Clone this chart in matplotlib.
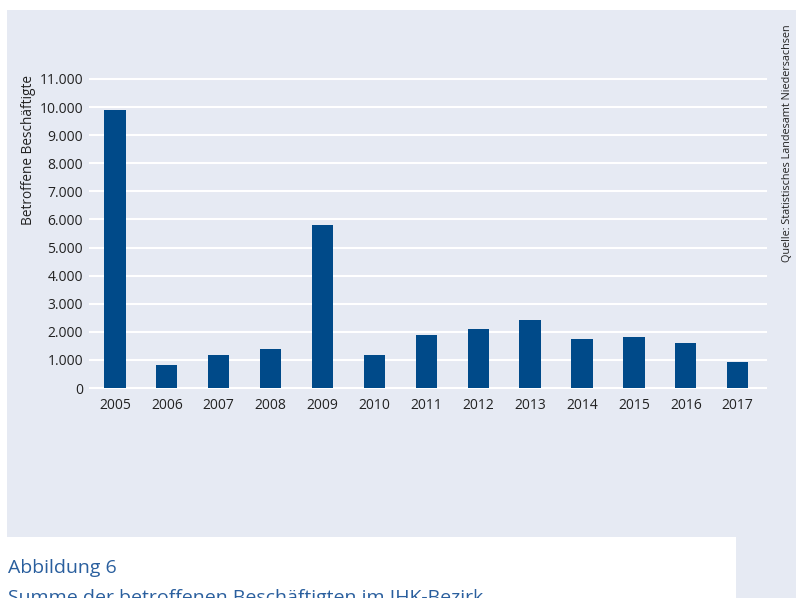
import matplotlib as mpl
mpl.use("Agg")
import matplotlib.pyplot as plt
from matplotlib.patches import Rectangle
from matplotlib.ticker import FuncFormatter
import numpy as np

plt.rcParams['font.family'] = ['Open Sans', 'DejaVu Sans']

years = ["2005", "2006", "2007", "2008", "2009", "2010", "2011",
         "2012", "2013", "2014", "2015", "2016", "2017"]
employees = [9900, 820, 1165, 1390, 5790, 1165, 1875,
             2100, 2410, 1755, 1825, 1590, 915]

panel = "#e6eaf3"
bar_color = "#004a89"
title_color = "#2a5f9e"

W, H = 796, 598
fig = plt.figure(figsize=(W / 100, H / 100), dpi=100)
fig.patch.set_facecolor("white")

# light panel behind the chart, with the white caption box cut out at bottom left
fig.patches.append(Rectangle((7 / W, 1 - 537 / H), 1 - 7 / W, (537 - 10) / H,
                             transform=fig.transFigure, facecolor=panel,
                             edgecolor="none", zorder=-5))
fig.patches.append(Rectangle((736 / W, 0), 1 - 736 / W, 1 - 537 / H + 0.001,
                             transform=fig.transFigure, facecolor=panel,
                             edgecolor="none", zorder=-5))

ax = fig.add_axes([90 / W, 1 - 388 / H, (766 - 90) / W, (388 - 79) / H])
ax.set_zorder(2)
ax.set_facecolor("none")

ind = np.arange(len(years))
ax.bar(ind, employees, width=0.41, color=bar_color, zorder=3)

ax.set_xlim(-0.48, len(years) - 1 + 0.545)
ax.set_ylim(0, 11000)
ax.set_yticks(np.arange(0, 11001, 1000))
ax.yaxis.set_major_formatter(FuncFormatter(lambda v, p: f"{int(v):,}".replace(",", ".")))
ax.set_xticks(ind, years)

ax.grid(axis="y", color="white", linewidth=1.5, zorder=1)
ax.set_axisbelow(True)
for s in ax.spines.values():
    s.set_visible(False)
ax.tick_params(axis="both", length=0, labelsize=10, colors="#222222")
ax.tick_params(axis="y", pad=5)
ax.tick_params(axis="x", pad=7)
for gl in ax.yaxis.get_gridlines():
    gl.set_clip_on(False)

fig.text(28 / W, 1 - 150 / H, "Betroffene Beschäftigte", rotation=90,
         ha="center", va="center", fontsize=9.8, color="#222222")
fig.text(787 / W, 1 - 143 / H, "Quelle: Statistisches Landesamt Niedersachsen",
         rotation=90, ha="center", va="center", fontsize=7.8, color="#222222")

fig.text(8 / W, 1 - 573 / H, "Abbildung 6", ha="left", va="baseline",
         fontsize=14, color=title_color)
fig.text(8 / W, 1 - 589 / H, "Summe der betroffenen Beschäftigten im IHK-Bezirk",
         ha="left", va="top", fontsize=14, color=title_color)

fig.savefig("out.png", dpi=100)
